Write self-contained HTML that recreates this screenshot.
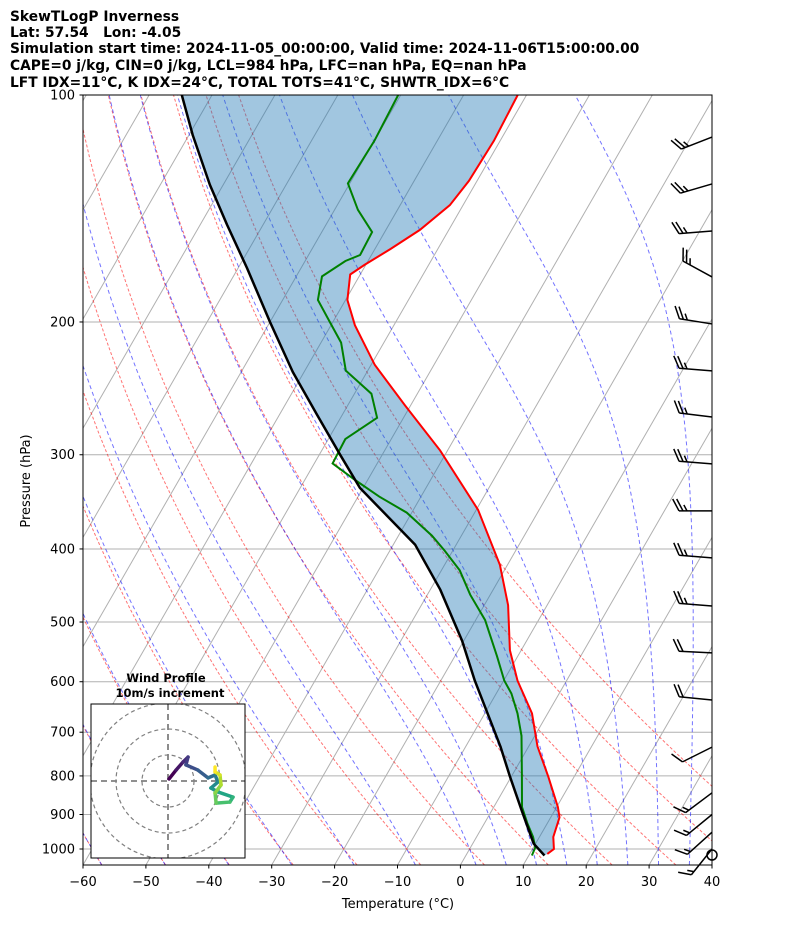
<!DOCTYPE html>
<html><head><meta charset="utf-8"><style>
html,body{margin:0;padding:0;background:#fff;}
svg{display:block;font-family:"DejaVu Sans","Liberation Sans",sans-serif;}
</style></head><body>
<svg id="c" width="794" height="937" viewBox="0 0 794 937" xmlns="http://www.w3.org/2000/svg">
<defs><clipPath id="plotclip"><rect x="83" y="95" width="629" height="770"/></clipPath>
<clipPath id="hodoclip"><rect x="91" y="704" width="154" height="154"/></clipPath></defs>
<g font-weight="bold" font-size="13.8" style="white-space:pre">
<text x="10" y="21">SkewTLogP Inverness</text>
<text x="10" y="37" xml:space="preserve">Lat: 57.54   Lon: -4.05</text>
<text x="10" y="53">Simulation start time: 2024-11-05_00:00:00, Valid time: 2024-11-06T15:00:00.00</text>
<text x="10" y="70">CAPE=0 j/kg, CIN=0 j/kg, LCL=984 hPa, LFC=nan hPa, EQ=nan hPa</text>
<text x="10" y="87">LFT IDX=11°C, K IDX=24°C, TOTAL TOTS=41°C, SHWTR_IDX=6°C</text>
</g>
<g id="bg" clip-path="url(#plotclip)"></g>
<g id="prof" clip-path="url(#plotclip)"></g>
<g id="barbs"></g>
<rect x="83" y="95" width="629" height="770" fill="none" stroke="#000" stroke-width="1"/>
<g id="axes" font-size="13"></g>
<text x="398" y="908" text-anchor="middle" font-size="13">Temperature (°C)</text>
<text transform="translate(30,481) rotate(-90)" text-anchor="middle" font-size="13">Pressure (hPa)</text>
<g id="hodo"></g>
</svg>
<script>
const pressureTicks=[100,200,300,400,500,600,700,800,900,1000];
const tempTicks=[-60,-50,-40,-30,-20,-10,0,10,20,30,40];
const tempP=[1015,1000,964,908,880,802,731,661,598,545,475,420,355,296,258,228,202,187,173,168,160,151,140,130,115,100];
const tempT=[12.8,13.4,12.2,11.4,10.2,5.9,1.4,-2.5,-7.8,-11.8,-16.2,-21.2,-29.7,-41.2,-50.9,-59.4,-66.2,-69.7,-71.6,-70.2,-67.5,-64.6,-62.1,-61.3,-61,-61.4];
const dewP=[1020,995,964,924,880,802,708,661,622,598,555,497,460,427,402,384,358,341,324,308,286,268,249,232,213,201,187,174,166,163,152,142,131,115,100];
const dewT=[10.5,10.3,9,6.8,4.5,1.7,-2.1,-4.8,-7.6,-9.9,-13.3,-18.5,-23.2,-27.1,-31.3,-34.7,-40.8,-46.6,-52,-57.1,-57.3,-54.2,-57.3,-63.5,-66.8,-70.2,-74.4,-75.9,-73.6,-71.8,-72,-76.3,-80.3,-80,-80.4];
const parcelP=[1020,984,890,802,731,598,529,453,395,332,300,265.6,233,200,169.6,148.7,131.6,113,100];
const parcelT=[12.5,9.7,4.8,-0.2,-4.5,-14.6,-20.3,-28.4,-36.5,-50.5,-56.7,-64,-71.8,-80,-88.6,-95.7,-102.1,-109.4,-114.8];
const barbP=[113.7,131.2,151.5,174.3,201.2,232.2,267.3,308.5,356.1,411,476.1,549.5,634.4,732.6,842.3,900,950,1000];
const barbU=[23,24,25,22,25,25,25,25,25,25,25,20,20,10,12,11,10,8];
const barbV=[9,7,2,-12,-4,-2,-3,-2,0,-2,-2,-1,-2,5,9,9,9,10];
const hodoU=[0.4,3.1,5.8,7.7,6.9,11.5,15.4,18.1,19.2,16.5,19.2,25,23.8,18.5,18.1,20.4,20,18.1,18.1];
const hodoV=[0.8,4.2,7.3,9.2,6.2,4.2,1.2,2.3,-0.4,-2.7,-4.2,-6.2,-8.1,-8.5,-4.6,-1.5,2.3,3.5,5.4];

const NS='http://www.w3.org/2000/svg';
function yP(p){return 95+754*Math.log10(p/100);}
function xT(T,p){return 83+(T+60)*6.29+0.576*(865-yP(p));}
function mk(tag,parent,attrs){const e=document.createElementNS(NS,tag);for(const k in attrs)e.setAttribute(k,attrs[k]);parent.appendChild(e);return e;}
function pathFrom(P,T){return P.map((p,i)=>(i?'L':'M')+xT(T[i],p).toFixed(1)+','+yP(p).toFixed(1)).join('');}
const bg=document.getElementById('bg'),prof=document.getElementById('prof'),axes=document.getElementById('axes');

pressureTicks.forEach(p=>{const l=mk('line',bg,{x1:83,x2:712,y1:yP(p),y2:yP(p),stroke:'#b0b0b0','stroke-width':1});
});
for(let T=-160;T<=40;T+=10){const l=mk('line',bg,{x1:xT(T,1050),y1:yP(1050),x2:xT(T,100),y2:yP(100),stroke:'#b0b0b0','stroke-width':1});
}
const pl=[];for(let p=1050;p>=99;p-=10)pl.push(p);
for(let th=-60;th<=50;th+=10){const T=pl.map(p=>(th+273.15)*Math.pow(p/1000,0.2857)-273.15);
const e=mk('path',bg,{d:pathFrom(pl,T),fill:'none',stroke:'rgba(255,0,0,0.55)','stroke-width':1,'stroke-dasharray':'3,2'});
}
function esat(tc){return 6.112*Math.exp(17.67*tc/(tc+243.5));}
function dTdlnp(T,p){const tc=T-273.15,es=esat(tc),rs=0.622*es/(p-es);
return (287.04*T+2.501e6*rs)/(1005.7+2.501e6*2.501e6*rs*0.622/(287.04*T*T));}
function moist(t0,pEnd){let T=t0+273.15,p=1000;const P=[p],Ts=[t0];const n=120,h=Math.log(pEnd/1000)/n;
for(let i=0;i<n;i++){const lp=Math.log(p);const k1=dTdlnp(T,p),k2=dTdlnp(T+h*k1/2,Math.exp(lp+h/2));
T+=h*k2;p=Math.exp(lp+h);P.push(p);Ts.push(T-273.15);}return [P,Ts];}
const moistT0=[-60,-50,-40,-30,-20,-10,0,5,10,15,20,25,30,35,40];
moistT0.forEach(t0=>{const a=moist(t0,100),b=moist(t0,1050);
const P=b[0].slice().reverse().concat(a[0].slice(1)),T=b[1].slice().reverse().concat(a[1].slice(1));
const e=mk('path',bg,{d:pathFrom(P,T),fill:'none',stroke:'rgba(0,0,255,0.55)','stroke-width':1,'stroke-dasharray':'4,3'});
});

{let d='';parcelP.forEach((p,i)=>{d+=(i?'L':'M')+xT(parcelT[i],p).toFixed(1)+','+yP(p).toFixed(1);});
for(let i=tempP.length-1;i>=0;i--)d+='L'+xT(tempT[i],tempP[i]).toFixed(1)+','+yP(tempP[i]).toFixed(1);
const f=mk('path',prof,{d:d+'Z',fill:'rgb(31,119,180)','fill-opacity':0.42,stroke:'none'});
}
{const e=mk('path',prof,{d:pathFrom(tempP,tempT),fill:'none',stroke:'#ff0000','stroke-width':2});
}
{const e=mk('path',prof,{d:pathFrom(dewP,dewT),fill:'none',stroke:'#008000','stroke-width':2});
}
{const e=mk('path',prof,{d:pathFrom(parcelP,parcelT),fill:'none',stroke:'#000','stroke-width':2.5,'stroke-linejoin':'round'});
}

pressureTicks.forEach(p=>{const y=yP(p);mk('line',axes,{x1:79.5,x2:83,y1:y,y2:y,stroke:'#000'});
const t=mk('text',axes,{x:75,y:y+4.5,'text-anchor':'end'});t.textContent=p;
});
tempTicks.forEach(T=>{const x=83+(T+60)*6.29;mk('line',axes,{x1:x,x2:x,y1:865,y2:868.5,stroke:'#000'});
const t=mk('text',axes,{x:x,y:886,'text-anchor':'middle'});t.textContent=(T<0?'\u2212':'')+Math.abs(T);
});

const bg2=document.getElementById('barbs');
barbP.forEach((p,i)=>{const bx=712,by=yP(p),u=barbU[i],v=barbV[i],s=Math.hypot(u,v);
const dx=-u/s,dy=v/s,L=33,tx=bx+dx*L,ty=by+dy*L;
const g=mk('g',bg2,{stroke:'#000','stroke-width':1.5,fill:'none'});

mk('line',g,{x1:bx,y1:by,x2:tx,y2:ty});
const fx=(-dy)*0.85+dx*0.45,fy=dx*0.85+dy*0.45;
let full=Math.floor((s+2.5)/10),half=((s+2.5)%10)>=5?1:0,k=0;
for(let j=0;j<full;j++,k++){const ox=tx-dx*k*4,oy=ty-dy*k*4;mk('line',g,{x1:ox,y1:oy,x2:ox+fx*14,y2:oy+fy*14});}
if(half){const ox=tx-dx*k*4,oy=ty-dy*k*4;mk('line',g,{x1:ox,y1:oy,x2:ox+fx*7,y2:oy+fy*7});}
});
{const c=mk('circle',bg2,{cx:712,cy:855,r:5,fill:'none',stroke:'#000','stroke-width':1.5});
}

const hodo=document.getElementById('hodo');
{const t1=mk('text',hodo,{x:166,y:682,'text-anchor':'middle','font-size':11.5,'font-weight':'bold'});t1.textContent='Wind Profile';

const t2=mk('text',hodo,{x:170,y:697,'text-anchor':'middle','font-size':11.5,'font-weight':'bold'});t2.textContent='10m/s increment';
}
mk('rect',hodo,{x:91,y:704,width:154,height:154,fill:'#fff',stroke:'none'});
const hg=mk('g',hodo,{'clip-path':'url(#hodoclip)'});
const cx=168,cy=781,sc=2.6;
[10,20,30].forEach(r=>{const c=mk('circle',hg,{cx:cx,cy:cy,r:r*sc,fill:'none',stroke:'#808080','stroke-width':1.2,'stroke-dasharray':'4,3'});
});
mk('line',hg,{x1:91,x2:245,y1:cy,y2:cy,stroke:'#808080','stroke-width':1.8,'stroke-dasharray':'6,4'});
mk('line',hg,{x1:cx,x2:cx,y1:704,y2:858,stroke:'#808080','stroke-width':1.8,'stroke-dasharray':'6,4'});
const vir=[[68,1,84],[72,36,117],[65,68,135],[53,95,141],[42,120,142],[33,145,140],[34,168,132],[68,191,112],[122,209,81],[189,223,38],[253,231,37]];
function vcol(t){const f=t*(vir.length-1),i=Math.min(Math.floor(f),vir.length-2),r=f-i;
const c=vir[i].map((a,j)=>Math.round(a+(vir[i+1][j]-a)*r));return 'rgb('+c.join(',')+')';}
for(let i=0;i<hodoU.length-1;i++){const l=mk('line',hg,{x1:cx+hodoU[i]*sc,y1:cy-hodoV[i]*sc,x2:cx+hodoU[i+1]*sc,y2:cy-hodoV[i+1]*sc,stroke:vcol(i/(hodoU.length-2)),'stroke-width':3.5,'stroke-linecap':'round'});
}
mk('rect',hodo,{x:91,y:704,width:154,height:154,fill:'none',stroke:'#000','stroke-width':1});
</script>
</body></html>
